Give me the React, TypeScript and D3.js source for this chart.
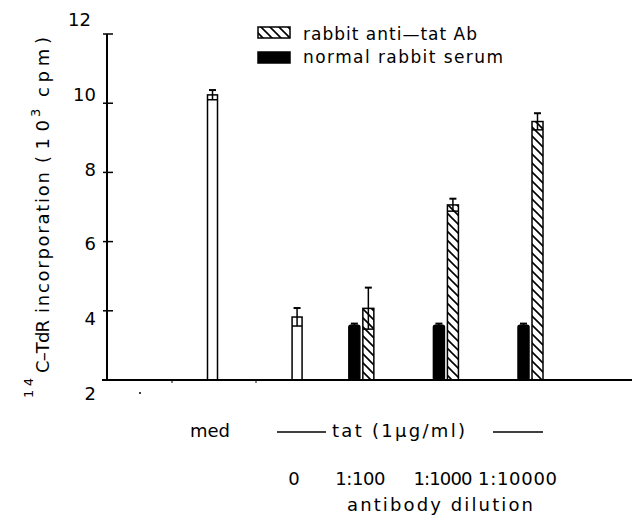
import React from "react";
import * as d3 from "d3";

// ---- data ----
const categories = ["med", "0", "1:100", "1:1000", "1:10000"];
const groupIndex = [0, 1, 1.76, 2.76, 3.76];
const openValues: (number | null)[] = [10.24, 3.82, null, null, null];
const openErr: (number | null)[] = [0.14, 0.26, null, null, null];
const antiTatValues: (number | null)[] = [null, null, 4.07, 7.06, 9.47];
const antiTatErr: (number | null)[] = [null, null, 0.6, 0.18, 0.24];
const normalValues: (number | null)[] = [null, null, 3.58, 3.58, 3.58];
const normalErr: (number | null)[] = [null, null, 0.05, 0.05, 0.05];
const yTicks = [2, 4, 6, 8, 10, 12];
const legendLabels = ["rabbit anti\u2014tat Ab", "normal rabbit serum"];
const dilutionLabels = ["", "0", "1:100", "1:1000", "1:10000"];
const dilutionShift = [0, -3, -1, -3, -13];
const dilutionLen = [0, 0, 50, 59, 79];
// y title pieces: [text, start along axis, length, baseline x, font size]
const titlePieces: [string, number, number, number, number][] = [
  ["14", 0, 20, 33, 13],
  ["C\u2013TdR", 25, 53, 49, 18],
  ["incorporation", 85, 141, 49, 18],
  ["(10", 235, 43, 49, 18],
  ["3", 281, 0, 40, 13],
  ["cpm)", 301, 60, 49, 18],
];

const W = 632;
const H = 516;
const FONT = "'DejaVu Sans', sans-serif";

export default function App() {
  const y = d3.scaleLinear().domain([2, 12]).range([380, 34]);
  const yLabel = d3.scaleLinear().domain([2, 12]).range([400, 26]);
  const x = d3.scaleLinear().domain([0, 3.76]).range([212.5, 530.5]);
  const axisX = 107;
  const pairW = 11;
  const gap = 3;
  const openW = 10;

  const errBar = (cx: number, bw: number, v: number, e: number, key: string) => (
    <g key={key} stroke="#000" strokeWidth={1.5} fill="none">
      <line x1={cx} x2={cx} y1={y(v - e)} y2={y(v + e)} />
      <line x1={cx - 3.5} x2={cx + 3.5} y1={y(v + e)} y2={y(v + e)} strokeWidth={2} />
      <line x1={cx - bw / 2} x2={cx + bw / 2} y1={y(v - e)} y2={y(v - e)} />
    </g>
  );

  const marks: React.ReactNode[] = [];
  categories.forEach((c, i) => {
    const cx = x(groupIndex[i]);
    const ov = openValues[i];
    if (ov != null) {
      marks.push(
        <rect key={"o" + i} x={cx - openW / 2} y={y(ov)} width={openW} height={y(2) - y(ov)}
          fill="#fff" stroke="#000" strokeWidth={1.5} />
      );
      marks.push(errBar(cx, openW, ov, openErr[i] as number, "oe" + i));
    }
    const nv = normalValues[i];
    if (nv != null) {
      const bx = cx - gap / 2 - pairW;
      marks.push(
        <rect key={"n" + i} x={bx} y={y(nv)} width={pairW} height={y(2) - y(nv)} rx={2}
          fill="#000" stroke="#000" strokeWidth={1.5} />
      );
      marks.push(errBar(bx + pairW / 2, pairW, nv, normalErr[i] as number, "ne" + i));
    }
    const av = antiTatValues[i];
    if (av != null) {
      const bx = cx + gap / 2;
      marks.push(
        <rect key={"a" + i} x={bx} y={y(av)} width={pairW} height={y(2) - y(av)}
          fill="url(#hatch)" stroke="#000" strokeWidth={1.5} />
      );
      marks.push(errBar(bx + pairW / 2, pairW, av, antiTatErr[i] as number, "ae" + i));
    }
  });

  return (
    <svg width={W} height={H} style={{ position: "absolute", left: 0, top: 0, background: "#fff" }}
      fontFamily={FONT}>
      <defs>
        <pattern id="hatch" patternUnits="userSpaceOnUse" width={9} height={9}>
          <rect width={9} height={9} fill="#fff" />
          <path d="M-2,-2 L11,11 M-2,7 L2,11 M7,-2 L11,2" stroke="#000" strokeWidth={1.6} />
        </pattern>
      </defs>
      <rect width={W} height={H} fill="#fff" />

      {/* y axis */}
      <line x1={axisX} x2={axisX} y1={y(12)} y2={y(2) + 1} stroke="#000" strokeWidth={2} />
      {yTicks.filter((t) => t > 2).map((t) => (
        <line key={"t" + t} x1={axisX - 4} x2={axisX + 6} y1={y(t)} y2={y(t)} stroke="#000" strokeWidth={1.5} />
      ))}
      {yTicks.map((t) => (
        <text key={"l" + t} x={t === 12 ? 91 : 96} y={yLabel(t)} textAnchor="end" fontSize={18}>
          {t}
        </text>
      ))}

      {/* bars */}
      {marks}

      {/* x axis */}
      <line x1={102} x2={W} y1={y(2)} y2={y(2)} stroke="#000" strokeWidth={2} />
      <line x1={172} x2={172} y1={y(2)} y2={y(2) + 3} stroke="#000" strokeWidth={1} />
      <line x1={256} x2={256} y1={y(2)} y2={y(2) + 3} stroke="#000" strokeWidth={1} />
      <circle cx={140} cy={393} r={1} fill="#000" />

      {/* y title */}
      <g transform="translate(0, 398) rotate(-90)">
        {titlePieces.map(([t, u, len, bx, fs], i) => (
          <text key={"yt" + i} x={u} y={bx} fontSize={fs}
            {...(len ? { textLength: len, lengthAdjust: "spacing" } : {})}>
            {t}
          </text>
        ))}
      </g>

      {/* legend */}
      <rect x={258} y={27} width={32} height={11} fill="url(#hatch)" stroke="#000" strokeWidth={1.5} />
      <rect x={258} y={52} width={32} height={11} fill="#000" stroke="#000" strokeWidth={1.5} />
      <text x={303} y={40} fontSize={17} textLength={174} lengthAdjust="spacing">{legendLabels[0]}</text>
      <text x={303} y={63} fontSize={17} textLength={200} lengthAdjust="spacing">{legendLabels[1]}</text>

      {/* bottom labels */}
      <text x={190} y={437} fontSize={18} textLength={40} lengthAdjust="spacing">{categories[0]}</text>
      <line x1={277} x2={326} y1={432} y2={432} stroke="#000" strokeWidth={1.5} />
      <text x={332} y={437} fontSize={18} textLength={133} lengthAdjust="spacing">tat (1&#956;g/ml)</text>
      <line x1={493} x2={543} y1={432} y2={432} stroke="#000" strokeWidth={1.5} />
      {dilutionLabels.map((lab, i) =>
        lab ? (
          <text key={"d" + i} x={x(groupIndex[i]) + dilutionShift[i]} y={485} fontSize={18} textAnchor="middle"
            {...(dilutionLen[i] ? { textLength: dilutionLen[i], lengthAdjust: "spacing" } : {})}>
            {lab}
          </text>
        ) : null
      )}
      <text x={347} y={511} fontSize={18} textLength={186} lengthAdjust="spacing">antibody dilution</text>
    </svg>
  );
}
